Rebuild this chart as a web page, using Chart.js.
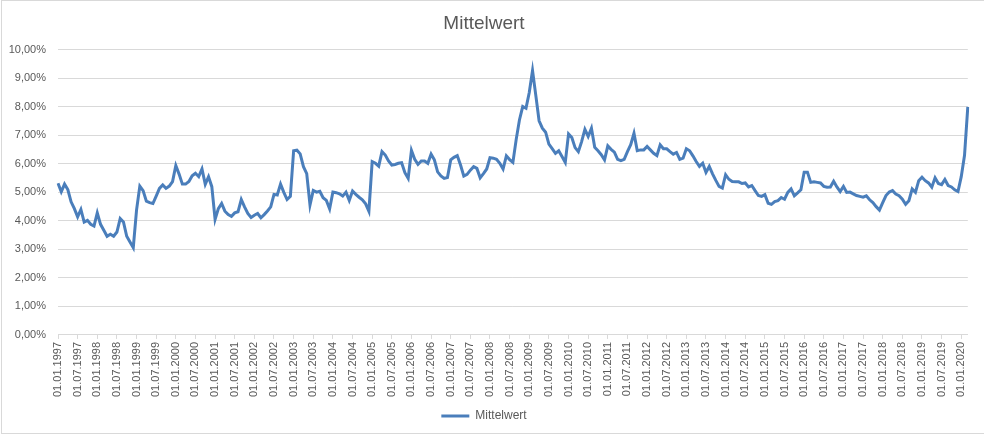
<!DOCTYPE html>
<html>
<head>
<meta charset="utf-8">
<script src="https://cdn.jsdelivr.net/npm/chart.js@4/dist/chart.umd.min.js"></script>
<style>
  html, body { margin: 0; padding: 0; background: #fff; }
  #wrap { width: 984px; height: 436px; position: relative; }
</style>
</head>
<body>
<div id="wrap"><canvas id="lineChart"></canvas></div>
<script>
// Monatswerte ab 01.01.1997, in Prozent
const startYear = 1997
const mittelwert = [
  5.32, 5.02, 5.29, 5.10, 4.67, 4.43, 4.14, 4.40, 3.96, 4.02, 3.88, 3.82,
  4.28, 3.88, 3.67, 3.46, 3.53, 3.46, 3.61, 4.08, 3.96, 3.46, 3.26, 3.06,
  4.38, 5.22, 5.06, 4.69, 4.64, 4.61, 4.87, 5.14, 5.26, 5.14, 5.22, 5.38,
  5.94, 5.64, 5.29, 5.29, 5.38, 5.58, 5.67, 5.55, 5.82, 5.28, 5.55, 5.20,
  4.05, 4.43, 4.61, 4.34, 4.22, 4.16, 4.28, 4.32, 4.75, 4.49, 4.26, 4.12,
  4.20, 4.26, 4.11, 4.22, 4.35, 4.49, 4.93, 4.91, 5.29, 5.00, 4.75, 4.86,
  6.46, 6.48, 6.35, 5.90, 5.66, 4.56, 5.07, 5.01, 5.04, 4.81, 4.72, 4.42,
  5.01, 4.99, 4.95, 4.87, 5.01, 4.72, 5.05, 4.93, 4.83, 4.74, 4.60, 4.34,
  6.08, 6.02, 5.92, 6.43, 6.31, 6.10, 5.96, 5.98, 6.02, 6.04, 5.69, 5.49,
  6.47, 6.16, 5.98, 6.10, 6.10, 6.02, 6.34, 6.14, 5.72, 5.58, 5.49, 5.52,
  6.14, 6.23, 6.29, 5.96, 5.57, 5.63, 5.78, 5.90, 5.84, 5.51, 5.66, 5.82,
  6.22, 6.20, 6.16, 6.02, 5.82, 6.28, 6.15, 6.05, 6.85, 7.54, 8.01, 7.95,
  8.50, 9.27, 8.40, 7.51, 7.25, 7.11, 6.69, 6.53, 6.37, 6.46, 6.26, 6.05,
  7.05, 6.92, 6.57, 6.43, 6.78, 7.21, 6.96, 7.25, 6.58, 6.46, 6.32, 6.14,
  6.63, 6.51, 6.41, 6.16, 6.11, 6.16, 6.43, 6.67, 7.07, 6.46, 6.49, 6.49,
  6.61, 6.49, 6.37, 6.29, 6.67, 6.53, 6.53, 6.43, 6.34, 6.40, 6.16, 6.20,
  6.53, 6.46, 6.28, 6.08, 5.91, 6.02, 5.70, 5.91, 5.65, 5.42, 5.21, 5.15,
  5.62, 5.46, 5.38, 5.37, 5.37, 5.31, 5.33, 5.19, 5.24, 5.06, 4.89, 4.86,
  4.92, 4.62, 4.58, 4.68, 4.71, 4.82, 4.76, 5.00, 5.12, 4.88, 4.98, 5.09,
  5.71, 5.71, 5.35, 5.37, 5.35, 5.33, 5.21, 5.18, 5.19, 5.39, 5.19, 5.03,
  5.21, 5.00, 5.01, 4.95, 4.89, 4.86, 4.83, 4.88, 4.74, 4.64, 4.50, 4.38,
  4.64, 4.89, 5.01, 5.06, 4.94, 4.88, 4.76, 4.58, 4.71, 5.12, 5.00, 5.41,
  5.53, 5.41, 5.33, 5.18, 5.51, 5.31, 5.27, 5.45, 5.24, 5.19, 5.09, 5.03,
  5.55, 6.30, 8.00
]
const yTicks = [0, 1, 2, 3, 4, 5, 6, 7, 8, 9, 10]

// Kategorien: 01.MM.JJJJ
const labels = mittelwert.map((v, i) => {
  const m = (i % 12) + 1
  const y = startYear + Math.floor(i / 12)
  return '01.' + String(m).padStart(2, '0') + '.' + y
})

const textColor = '#595959'
const gridColor = '#d9d9d9'
const lineColor = '#4a7ebb'

const frame = {
  id: 'frame',
  afterDraw(chart) {
    const c = chart.ctx
    c.save()
    c.strokeStyle = gridColor
    c.lineWidth = 1
    c.strokeRect(1.5, 0.5, 1000, 433)
    c.restore()
  }
}

const ctxLine = document.getElementById('lineChart').getContext('2d')

new Chart(ctxLine, {
  type: 'line',
  data: {
    labels: labels,
    datasets: [{
      label: 'Mittelwert',
      data: mittelwert,
      borderColor: lineColor,
      backgroundColor: lineColor,
      borderWidth: 3,
      pointRadius: 0,
      tension: 0,
      fill: false
    }]
  },
  options: {
    responsive: true,
    maintainAspectRatio: false,
    animation: false,
    layout: { padding: { left: 0, right: 16, top: 0, bottom: 4 } },
    plugins: {
      title: {
        display: true,
        text: 'Mittelwert',
        color: textColor,
        font: { family: 'Liberation Sans, Arial, sans-serif', size: 19, weight: 'normal' },
        padding: { top: 12, bottom: 15 }
      },
      legend: {
        position: 'bottom',
        labels: {
          color: textColor,
          font: { family: 'Liberation Sans, Arial, sans-serif', size: 12 },
          usePointStyle: true,
          pointStyle: 'line',
          pointStyleWidth: 28,
          padding: 10
        }
      },
      tooltip: { enabled: false }
    },
    scales: {
      x: {
        type: 'category',
        offset: false,
        grid: {
          drawOnChartArea: false,
          drawTicks: true,
          tickLength: 4,
          color: c => (c.index % 6 === 0 ? gridColor : 'rgba(0,0,0,0)')
        },
        border: { color: gridColor },
        ticks: {
          autoSkip: false,
          minRotation: 90,
          maxRotation: 90,
          padding: 3,
          color: textColor,
          font: { family: 'Liberation Sans, Arial, sans-serif', size: 11 },
          callback: function (val, i) { return i % 6 === 0 ? labels[i] : '' }
        }
      },
      y: {
        min: yTicks[0],
        max: yTicks[yTicks.length - 1],
        afterFit: s => { s.width = 58 },
        afterBuildTicks: s => { s.ticks = yTicks.map(v => ({ value: v })) },
        grid: { color: gridColor, drawTicks: false },
        border: { display: false },
        ticks: {
          padding: 12,
          color: textColor,
          font: { family: 'Liberation Sans, Arial, sans-serif', size: 11 },
          callback: v => v.toFixed(2).replace('.', ',') + '%'
        }
      }
    }
  },
  plugins: [frame]
})
</script>
</body>
</html>
